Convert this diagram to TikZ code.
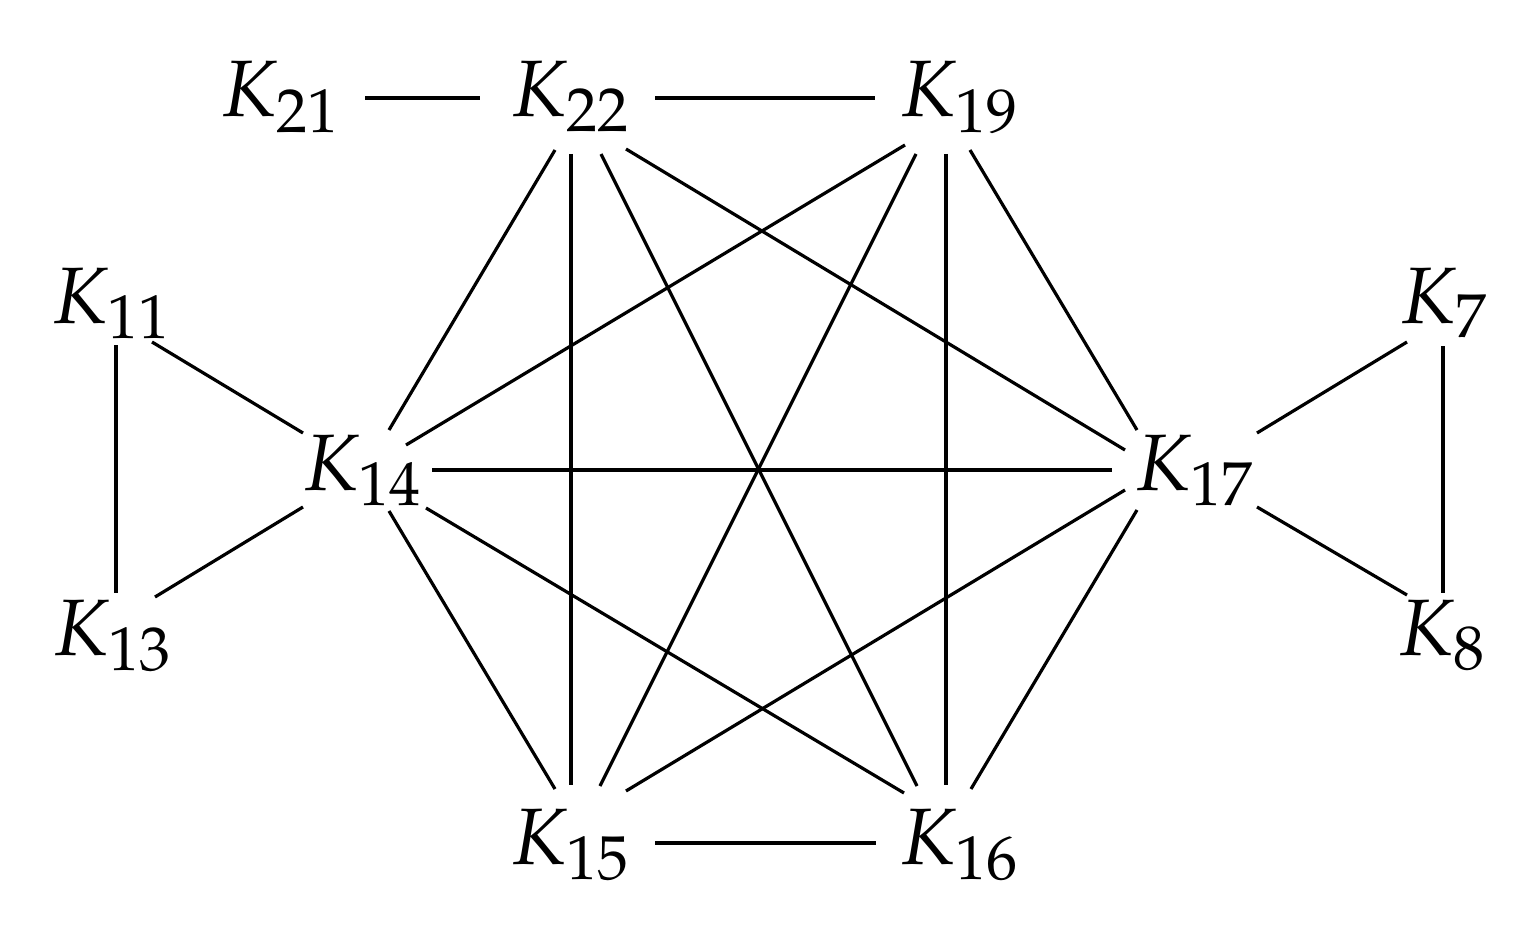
\documentclass[tikz,border=0pt]{standalone}
\usepackage{mathpazo}
\DeclareMathSizes{40}{40}{31}{25}
\begin{document}
\begin{tikzpicture}[x=0.5pt,y=-0.5pt,
  lbl/.style={anchor=base,inner sep=0pt,font=\fontsize{40}{48}\selectfont},
  conn/.style={line width=1.6pt}]
\useasboundingbox (0,0) rectangle (1539,931);
\node[lbl] (K21) at (280,117) {$K_{21}$};
\node[lbl] (K22) at (570.5,117) {$K_{22}$};
\node[lbl] (K19) at (959.5,117) {$K_{19}$};
\node[lbl] (K11) at (111.5,323) {$K_{11}$};
\node[lbl] (K7) at (1444,323) {$K_{7}$};
\node[lbl] (K14) at (362.5,490) {$K_{14}$};
\node[lbl] (K17) at (1194,490) {$K_{17}$};
\node[lbl] (K13) at (112,655) {$K_{13}$};
\node[lbl] (K8) at (1442,655) {$K_{8}$};
\node[lbl] (K15) at (570,864) {$K_{15}$};
\node[lbl] (K16) at (959.5,864) {$K_{16}$};
% top and bottom rows
\draw[conn] ([shift={(85,-19)}]K21.base) -- ([shift={(-90.5,-19)}]K22.base);
\draw[conn] ([shift={(84.5,-19)}]K22.base) -- ([shift={(-84.5,-19)}]K19.base);
\draw[conn] ([shift={(85,-21)}]K15.base) -- ([shift={(-83.5,-21)}]K16.base);
% from K22
\draw[conn] ([shift={(-15.5,33)}]K22.base) -- ([shift={(26.5,-60)}]K14.base);
\draw[conn] ([shift={(0.5,37)}]K22.base) -- ([shift={(1,-79)}]K15.base);
\draw[conn] ([shift={(30.5,37)}]K22.base) -- ([shift={(-42.5,-78)}]K16.base);
\draw[conn] ([shift={(55.5,32)}]K22.base) -- ([shift={(-69,-40)}]K17.base);
% from K19
\draw[conn] ([shift={(-54.5,28)}]K19.base) -- ([shift={(43.5,-45)}]K14.base);
\draw[conn] ([shift={(-43.5,37)}]K19.base) -- ([shift={(30,-78)}]K15.base);
\draw[conn] ([shift={(-13.5,37)}]K19.base) -- ([shift={(-13.5,-79)}]K16.base);
\draw[conn] ([shift={(10.5,33)}]K19.base) -- ([shift={(-57,-60)}]K17.base);
% from K14
\draw[conn] ([shift={(69.5,-20)}]K14.base) -- ([shift={(-82,-20)}]K17.base);
\draw[conn] ([shift={(26.5,21)}]K14.base) -- ([shift={(-15,-75)}]K15.base);
\draw[conn] ([shift={(63.5,18)}]K14.base) -- ([shift={(-55.5,-71)}]K16.base);
% from K17
\draw[conn] ([shift={(-69,0)}]K17.base) -- ([shift={(56,-73)}]K15.base);
\draw[conn] ([shift={(-57,20)}]K17.base) -- ([shift={(11.5,-75)}]K16.base);
% left triangle
\draw[conn] ([shift={(4.5,22)}]K11.base) -- ([shift={(4,-62)}]K13.base);
\draw[conn] ([shift={(40.5,19)}]K11.base) -- ([shift={(-59.5,-57)}]K14.base);
\draw[conn] ([shift={(43,-58)}]K13.base) -- ([shift={(-59.5,17)}]K14.base);
% right triangle
\draw[conn] ([shift={(-37,19)}]K7.base) -- ([shift={(63,-57)}]K17.base);
\draw[conn] ([shift={(-35,-60)}]K8.base) -- ([shift={(63,17)}]K17.base);
\draw[conn] ([shift={(-1,23)}]K7.base) -- ([shift={(1,-62)}]K8.base);
\end{tikzpicture}
\end{document}
